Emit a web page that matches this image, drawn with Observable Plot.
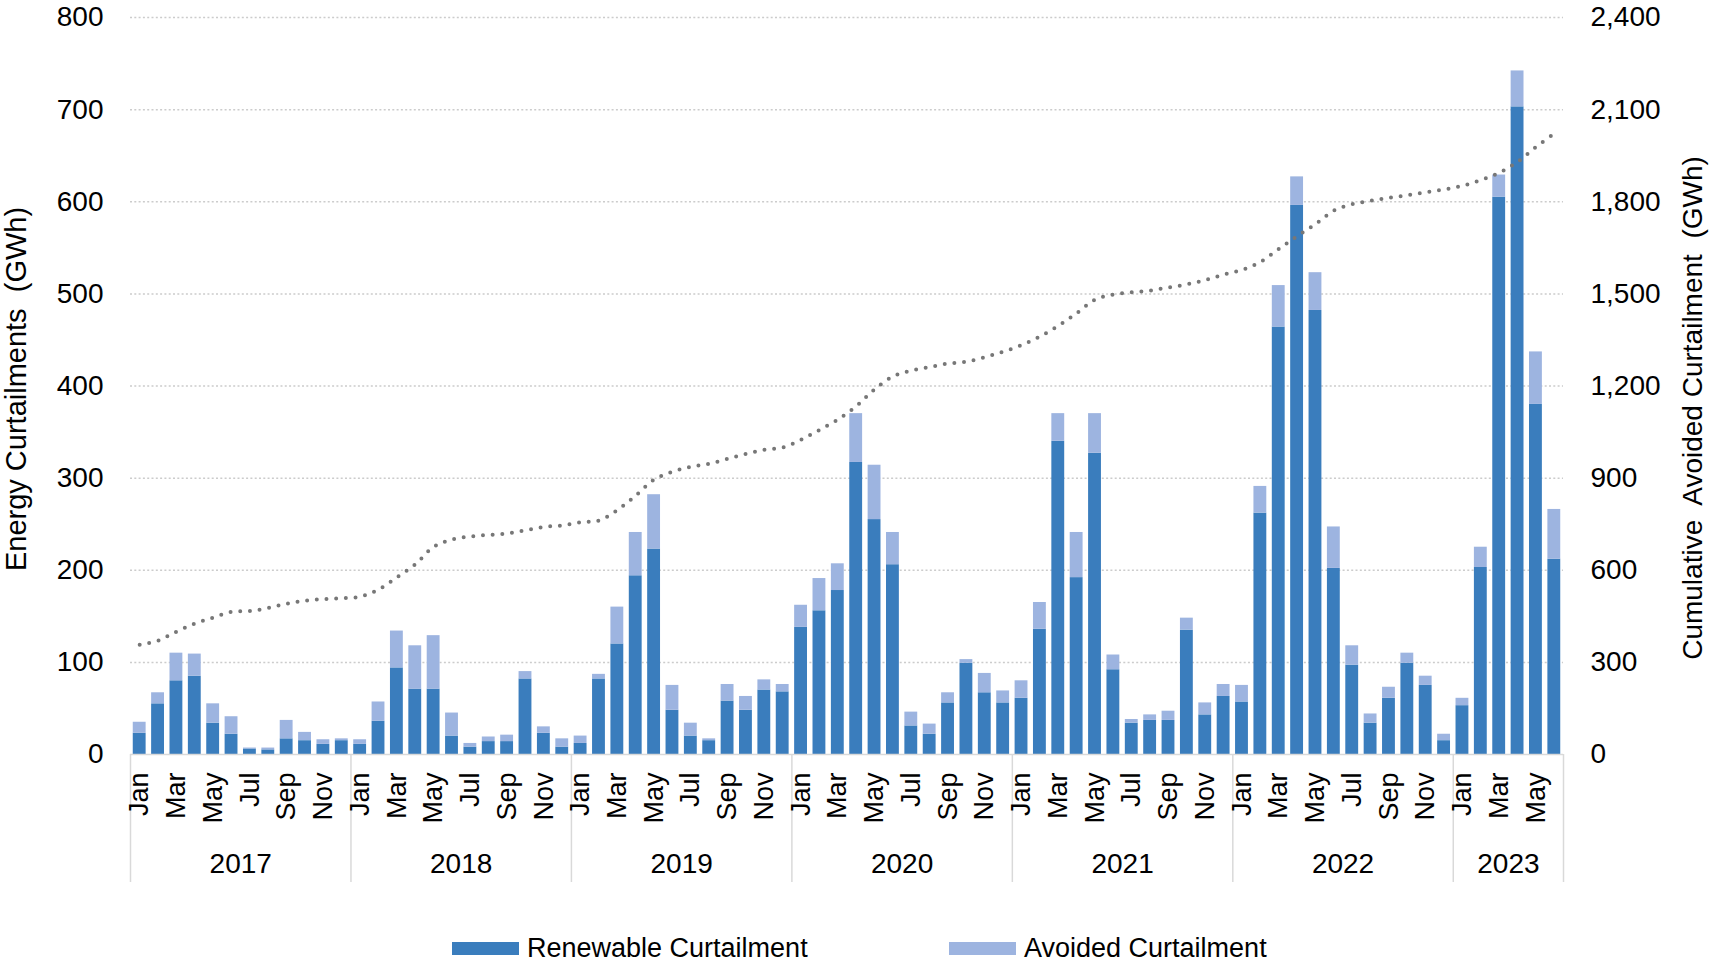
<!DOCTYPE html>
<html>
<head>
<meta charset="utf-8">
<script src="https://cdn.jsdelivr.net/npm/d3@7"></script>
<script src="https://cdn.jsdelivr.net/npm/@observablehq/plot@0.6"></script>
<style>
  html, body { margin: 0; padding: 0; background: #ffffff; }
  body { font-family: "Liberation Sans", Arial, sans-serif; color: #000; }
  #wrap { width: 1710px; height: 965px; overflow: hidden; }
  #chart svg text { white-space: pre; }
  #legend { display: flex; align-items: center; height: 26px; margin-top: 25px; padding-left: 452px; font-size: 27px; }
  .item { display: flex; align-items: center; }
  .item:first-child { width: 497px; }
  .sw { width: 67px; height: 13px; margin-right: 8px; }
</style>
</head>
<body>
<div id="wrap">
  <div id="chart"></div>
  <div id="legend"></div>
</div>
<script>
// ---------------- data ----------------
const years = [2017, 2018, 2019, 2020, 2021, 2022, 2023];
const monthsPerYear = [12, 12, 12, 12, 12, 12, 6];
const monthNames = ["Jan", "Feb", "Mar", "Apr", "May", "Jun", "Jul", "Aug", "Sep", "Oct", "Nov", "Dec"];
const labelledMonths = ["Jan", "Mar", "May", "Jul", "Sep", "Nov"];

// Renewable curtailment (GWh), Jan 2017 .. Jun 2023
const renewable = [
  23, 55, 80, 85, 34, 22, 6, 5, 17, 15, 11, 15,
  11, 36, 94, 71, 71, 20, 8, 14, 14, 82, 23, 8,
  12, 82, 120, 194, 223, 48, 20, 15, 58, 48, 70, 68,
  138, 156, 178, 317, 255, 206, 31, 22, 56, 99, 67, 56,
  61, 136, 340, 192, 327, 92, 34, 37, 37, 135, 43, 63,
  57, 262, 464, 596, 482, 202, 97, 34, 61, 99, 75, 15,
  53, 203, 605, 703, 380, 212
];
// Avoided curtailment (GWh), stacked on top
const avoided = [
  12, 12, 30, 24, 21, 19, 1, 2, 20, 9, 5, 2,
  5, 21, 40, 47, 58, 25, 4, 5, 7, 8, 7, 9,
  8, 5, 40, 47, 59, 27, 14, 2, 18, 15, 11, 8,
  24, 35, 29, 53, 59, 35, 15, 11, 11, 4, 21, 13,
  19, 29, 30, 49, 43, 16, 4, 6, 10, 13, 13, 13,
  18, 29, 45, 31, 41, 45, 21, 10, 12, 11, 10, 7,
  8, 22, 24, 39, 57, 54
];
// Cumulative avoided curtailment (GWh), right axis
const cumulative = [
  357, 371, 400, 426, 446, 465, 467, 477, 491, 501, 506, 509,
  514, 537, 577, 619, 676, 700, 710, 715, 720, 730, 741, 746,
  756, 762, 796, 843, 895, 921, 937, 947, 963, 979, 992, 1000,
  1025, 1057, 1091, 1134, 1189, 1231, 1250, 1262, 1273, 1279, 1294, 1312,
  1333, 1361, 1396, 1437, 1481, 1498, 1505, 1511, 1521, 1531, 1545, 1563,
  1578, 1604, 1646, 1688, 1727, 1771, 1792, 1803, 1813, 1821, 1831, 1840,
  1852, 1871, 1894, 1930, 1978, 2022
];

const seriesNames = ["Renewable Curtailment", "Avoided Curtailment"];
const seriesColors = ["#3A7DBD", "#9DB4E0"];
const leftTicks = [0, 100, 200, 300, 400, 500, 600, 700, 800];
const rightTicks = [0, 300, 600, 900, 1200, 1500, 1800, 2100, 2400];
const leftTitle = "Energy Curtailments  (GWh)";
const rightTitle = "Cumulative  Avoided Curtailment  (GWh)";

// ---------------- tables ----------------
const months = [];
years.forEach((yr, yi) => {
  for (let m = 0; m < monthsPerYear[yi]; m++) {
    months.push({key: `${yr}-${String(m + 1).padStart(2, "0")}`, year: yr, m, label: monthNames[m]});
  }
});
months.forEach((d, i) => { d.renewable = renewable[i]; d.avoided = avoided[i]; d.cum = cumulative[i]; });
const stacked = months.flatMap(d => [
  {key: d.key, series: seriesNames[0], value: d.renewable},
  {key: d.key, series: seriesNames[1], value: d.avoided}
]);
const ratio = rightTicks[rightTicks.length - 1] / leftTicks[leftTicks.length - 1];
const yearRows = years.map((yr) => {
  const ms = months.filter(d => d.year === yr);
  return {year: String(yr), key: ms[ms.length / 2].key};
});
const janKeys = months.filter(d => d.m === 0).map(d => d.key);
const lastKey = months[months.length - 1].key;

// ---------------- layout ----------------
const W = 1710, H = 910, mL = 130, mR = 147, mT = 17, mB = 156;
const step = (W - mL - mR) / months.length;
const font = 28;

const chart = Plot.plot({
  width: W, height: H,
  marginLeft: mL, marginRight: mR, marginTop: mT, marginBottom: mB,
  style: {fontFamily: '"Liberation Sans", Arial, sans-serif', fontSize: "28px", background: "#fff", color: "#000", overflow: "visible"},
  x: {type: "band", domain: months.map(d => d.key), paddingInner: 0.3, paddingOuter: 0.15, round: false, axis: null},
  y: {domain: [0, 800]},
  color: {domain: seriesNames, range: seriesColors},
  marks: [
    Plot.ruleY(leftTicks.filter(t => t > 0), {stroke: "#cccccc", strokeWidth: 1.5, strokeDasharray: "2,2.3"}),
    Plot.ruleX(janKeys, {x: d => d, y1: () => 0, y2: () => 0, insetBottom: -128, dx: -step / 2, stroke: "#d9d9d9", strokeWidth: 1.5}),
    Plot.ruleX([lastKey], {x: d => d, y1: () => 0, y2: () => 0, insetBottom: -128, dx: step / 2, stroke: "#d9d9d9", strokeWidth: 1.5}),
    Plot.barY(stacked, {x: "key", y: "value", fill: "series"}),
    Plot.ruleY([0], {stroke: "#d9d9d9", strokeWidth: 1.5}),
    Plot.line(months, {x: "key", y: d => d.cum / ratio, stroke: "#777777", strokeWidth: 4, strokeDasharray: "0,9.7", strokeLinecap: "round", curve: "catmull-rom"}),
    Plot.text(months.filter(d => labelledMonths.includes(d.label)), {x: "key", text: "label", frameAnchor: "bottom", rotate: -90, textAnchor: "end", lineAnchor: "middle", dy: 18, fontSize: 27, fill: "#000"}),
    Plot.text(yearRows, {x: "key", text: "year", frameAnchor: "bottom", textAnchor: "middle", lineAnchor: "middle", dx: -step / 2, dy: 110, fontSize: font, fill: "#000"}),
    Plot.axisY(leftTicks, {anchor: "left", tickSize: 0, tickPadding: 27, fontSize: font, label: null, tickFormat: d3.format(",")}),
    Plot.axisY(rightTicks.map(t => t / ratio), {anchor: "right", tickSize: 0, tickPadding: 27, fontSize: font, label: null, tickFormat: v => d3.format(",")(Math.round(v * ratio))}),
    Plot.text([leftTitle], {text: d => d, frameAnchor: "left", textAnchor: "middle", lineAnchor: "middle", dx: -114, dy: 3, rotate: -90, fontSize: 29, fill: "#000"}),
    Plot.text([rightTitle], {text: d => d, frameAnchor: "right", textAnchor: "middle", lineAnchor: "middle", dx: 130, dy: 22, rotate: -90, fontSize: font, fill: "#000"})
  ]
});
document.getElementById("chart").appendChild(chart);

// ---------------- legend ----------------
const legend = document.getElementById("legend");
seriesNames.forEach((name, i) => {
  const item = document.createElement("div");
  item.className = "item";
  const sw = document.createElement("div");
  sw.className = "sw";
  sw.style.background = seriesColors[i];
  const label = document.createElement("span");
  label.textContent = name;
  item.appendChild(sw);
  item.appendChild(label);
  legend.appendChild(item);
});
</script>
</body>
</html>
